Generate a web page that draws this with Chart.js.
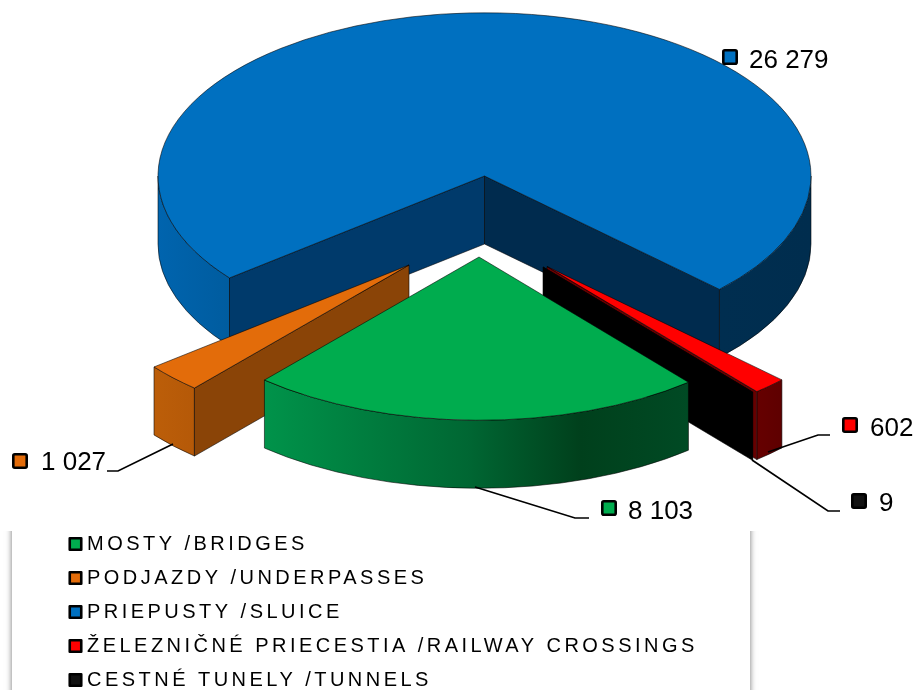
<!DOCTYPE html>
<html>
<head>
<meta charset="utf-8">
<style>
html,body{margin:0;padding:0;background:#fff;overflow:hidden}
#wrap{position:relative;width:917px;height:690px}
</style>
<script src="https://cdn.jsdelivr.net/npm/chart.js@4/dist/chart.umd.min.js"></script>
</head>
<body>
<div id="wrap"><canvas id="c" width="917" height="690"></canvas></div>
<script>
const categories = ['MOSTY /BRIDGES','PODJAZDY /UNDERPASSES','PRIEPUSTY /SLUICE','ŽELEZNIČNÉ PRIECESTIA /RAILWAY CROSSINGS','CESTNÉ TUNELY /TUNNELS'];
const values = [8103, 1027, 26279, 602, 9];
const topColors = ['#00AC4E','#E36C0A','#0070C0','#FF0000','#000000'];

// 3D look of the pie (styling, not data)
const pieCentre = {x:484.5, y:176};
const tilt = 0.5, depth = 68, pieRadius = 326.5;
const explodeX = [-5.5,-75.5,0,62.5,58.5];
const explodeY = [81,89,0,90.5,91];
const paintOrder = [2,3,4,1,0];
const wallStops = [
  [[0,'#00934A'],[0.48,'#006733'],[0.745,'#00401C'],[1,'#004A24']],
  [[0,'#BC5E09'],[1,'#B55908']],
  [[0,'#0064AE'],[0.11,'#005C9F'],[0.86,'#002E50'],[1,'#002D4E']],
  [[0,'#660000'],[1,'#5E0000']],
  [[0,'#000000'],[1,'#000000']]
];
const cutStartColors = ['#004A24','#8A4407','#003A6B','#660000','#000000'];
const cutEndColors = ['#004A24','#8A4407','#002B4E','#660000','#000000'];

const labelKeys = [[601,500],[12,453],[722,49],[842,417],[851,493]];
const labelText = [[628,519],[41,470],[749,68],[870,436],[879,511]];
const leaders = [
  [[475,487],[575,518],[589,518]],
  [[173,444],[118,471],[107,471]],
  [],
  [[768,452],[818,435],[830,435]],
  [[752,460],[828,511],[840,511]]
];
const keyFills = ['#00AC4E','#E36C0A','#0070C0','#FF0000','#111111'];
const legendSpacing = '3.47px';

const fmt = v => String(v).replace(/\B(?=(\d{3})+$)/g,' ');

function wallPieces(s,e){
  const out=[], P=Math.PI;
  for(let k=-2;k<3;k++){
    const lo=Math.max(s,2*P*k), hi=Math.min(e,P+2*P*k);
    if(hi>lo) out.push([lo,hi]);
  }
  return out;
}

const pie3d = {
  id:'pie3d',
  beforeLayout(chart){ chart.ctx.letterSpacing = legendSpacing; },
  afterLayout(chart){
    const l = chart.legend;
    l.top += 14; l.bottom += 14; l.right = 917;
    chart.ctx.letterSpacing = '0px';
  },
  beforeDraw(chart){
    const ctx = chart.ctx;
    ctx.save();
    ctx.beginPath(); ctx.rect(0,531,917,159); ctx.clip();
    ctx.shadowColor='rgba(0,0,0,0.55)'; ctx.shadowBlur=6;
    ctx.fillStyle='#fff';
    ctx.fillRect(12,510,738,230);
    ctx.restore();
    ctx.letterSpacing = legendSpacing;
  },
  beforeDatasetDraw(chart,args){
    const ctx = chart.ctx;
    ctx.letterSpacing='0px';
    const arcs = chart.getDatasetMeta(args.index).data;
    paintOrder.forEach(i=>{
      const a = arcs[i];
      const cx = pieCentre.x+explodeX[i], cy = pieCentre.y+explodeY[i];
      const R = a.outerRadius, ry = R*tilt;
      const s = a.startAngle, e = a.endAngle;
      ctx.save();
      ctx.lineWidth=0.8; ctx.strokeStyle='rgba(0,0,0,0.7)'; ctx.lineJoin='round';
      const pieces = wallPieces(s,e);
      if(pieces.length){
        let x0=Infinity,x1=-Infinity;
        pieces.forEach(([p,q])=>{
          const xs=[cx+R*Math.cos(p),cx+R*Math.cos(q)];
          if(p<=Math.PI*3 && q>=Math.PI*3 || (p<=Math.PI && q>=Math.PI)) xs.push(cx-R);
          if(p<=Math.PI*2 && q>=Math.PI*2) xs.push(cx+R);
          x0=Math.min(x0,...xs); x1=Math.max(x1,...xs);
        });
        const g=ctx.createLinearGradient(x0,0,x1,0);
        wallStops[i].forEach(([o,c])=>g.addColorStop(o,c));
        pieces.forEach(([p,q])=>{
          ctx.beginPath();
          ctx.ellipse(cx,cy,R,ry,0,p,q);
          ctx.ellipse(cx,cy+depth,R,ry,0,q,p,true);
          ctx.closePath();
          ctx.fillStyle=g; ctx.fill(); ctx.stroke();
        });
      }
      const cut=(ang,col)=>{
        const rx=cx+R*Math.cos(ang), ryy=cy+ry*Math.sin(ang);
        ctx.beginPath();
        ctx.moveTo(cx,cy); ctx.lineTo(rx,ryy); ctx.lineTo(rx,ryy+depth); ctx.lineTo(cx,cy+depth);
        ctx.closePath();
        ctx.fillStyle=col; ctx.fill(); ctx.stroke();
      };
      if(Math.cos(s)<0) cut(s,cutStartColors[i]);
      if(Math.cos(e)>0) cut(e,cutEndColors[i]);
      ctx.restore();
      // top face: the library's own arc element, squashed into the tilt plane
      ctx.save();
      ctx.translate(cx,cy);
      ctx.scale(1,tilt);
      ctx.translate(-a.x,-a.y);
      a.draw(ctx);
      ctx.restore();
    });
    return false;
  },
  afterDatasetsDraw(chart){
    const ctx = chart.ctx;
    ctx.save();
    ctx.letterSpacing='0px';
    leaders.forEach(p=>{
      if(!p.length) return;
      ctx.beginPath();
      p.forEach(([x,y],k)=>k?ctx.lineTo(x,y):ctx.moveTo(x,y));
      ctx.lineWidth=1.7; ctx.strokeStyle='#000'; ctx.stroke();
    });
    values.forEach((v,i)=>{
      const [kx,ky]=labelKeys[i];
      ctx.beginPath();
      ctx.roundRect(kx+1.3,ky+1.3,13.4,13.4,1.5);
      ctx.fillStyle=keyFills[i]; ctx.fill();
      ctx.lineWidth=2.6; ctx.strokeStyle='#000'; ctx.stroke();
      ctx.fillStyle='#000';
      ctx.font='26px "Liberation Sans", Arial, sans-serif';
      ctx.textAlign='left'; ctx.textBaseline='alphabetic';
      ctx.fillText(fmt(v),labelText[i][0],labelText[i][1]);
    });
    ctx.restore();
  }
};

new Chart(document.getElementById('c'),{
  type:'pie',
  data:{labels:categories,datasets:[{
    data:values,
    backgroundColor:topColors,
    borderColor:'rgba(0,0,0,0.75)',
    borderWidth:1,
    radius:pieRadius
  }]},
  options:{
    responsive:false,
    animation:false,
    events:[],
    rotation:140.1,
    layout:{padding:{left:60}},
    plugins:{
      tooltip:{enabled:false},
      legend:{
        position:'left',
        align:'end',
        labels:{
          font:{family:'"Liberation Sans", Arial, sans-serif',size:20},
          color:'#1a1a1a',
          padding:14,
          usePointStyle:true,
          boxWidth:3,
          boxHeight:11.5,
          generateLabels:()=>categories.map((t,i)=>({
            text:t,
            fillStyle:keyFills[i],
            strokeStyle:'#000',
            lineWidth:2.6,
            lineJoin:'round',
            pointStyle:'rect',
            hidden:false,
            index:i
          }))
        }
      }
    }
  },
  plugins:[pie3d]
});
</script>
</body>
</html>
